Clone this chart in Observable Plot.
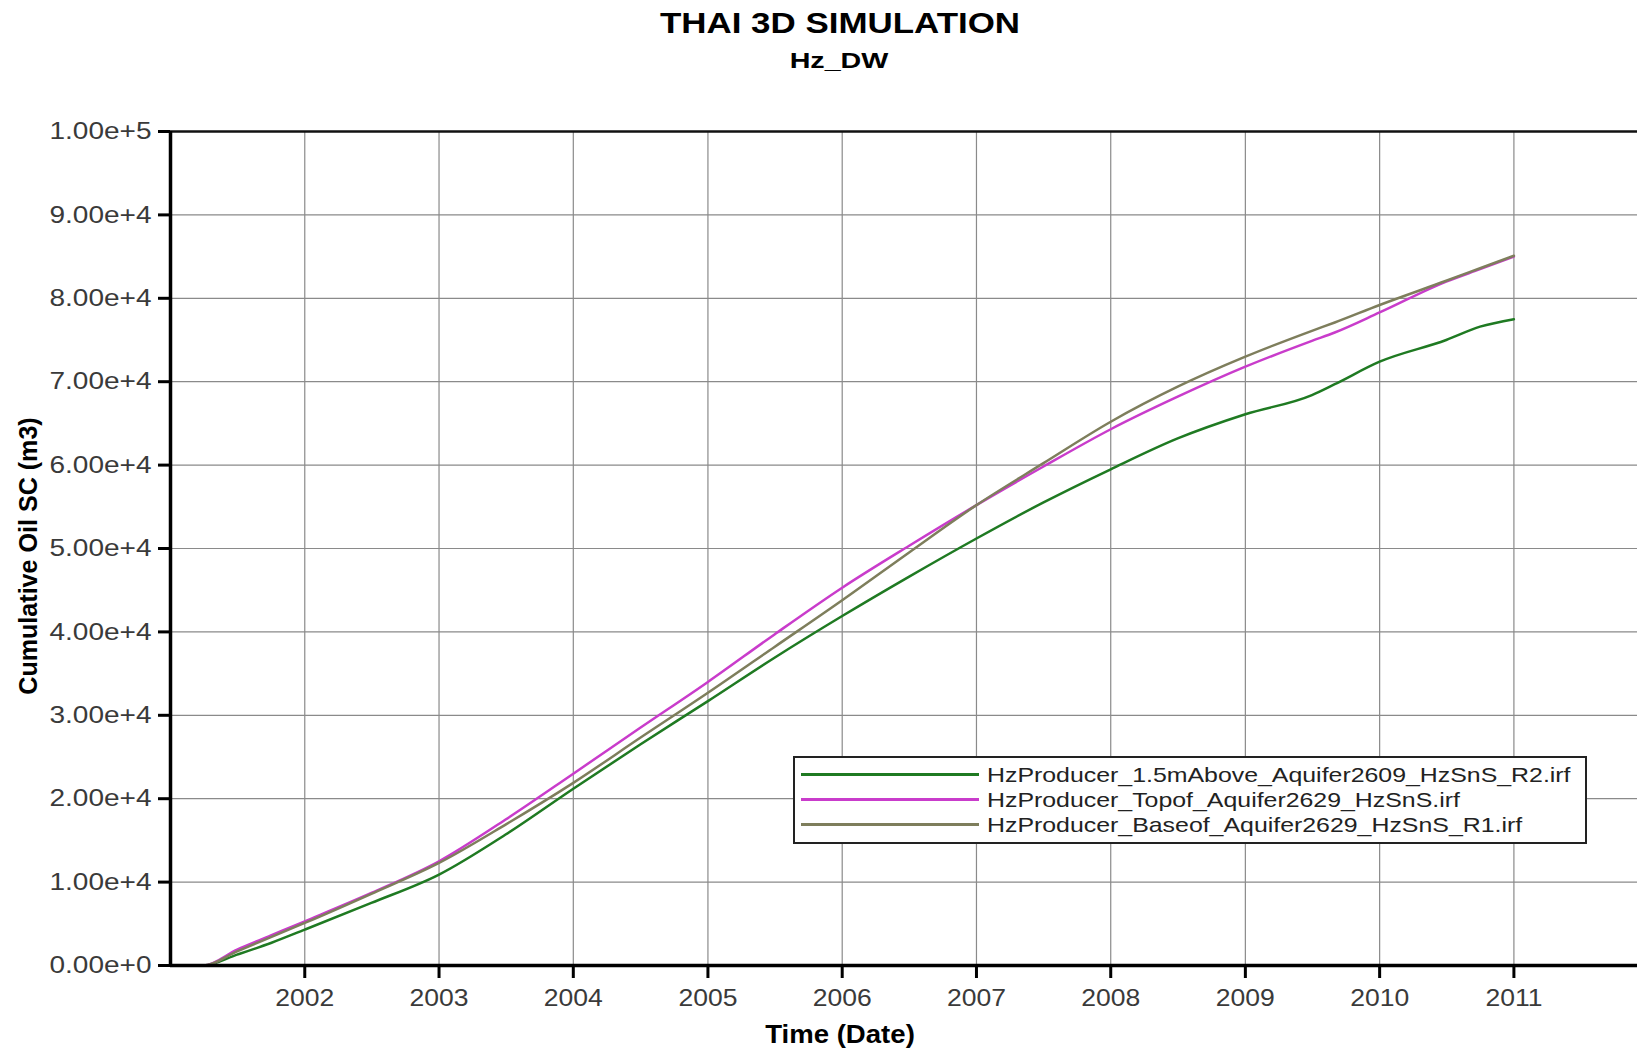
<!DOCTYPE html>
<html>
<head>
<meta charset="utf-8">
<script src="https://cdn.jsdelivr.net/npm/d3@7"></script>
<script src="https://cdn.jsdelivr.net/npm/@observablehq/plot@0.6"></script>
<style>
  html, body { margin: 0; padding: 0; background: #fff; }
  #wrap { position: relative; width: 1637px; height: 1050px; overflow: hidden; font-family: "Liberation Sans", Arial, sans-serif; }
  .ov { position: absolute; white-space: nowrap; line-height: 1; }
</style>
</head>
<body>
<div id="wrap"></div>
<script>
// ---------------- data ----------------
const dates = ["2001-01","2001-04","2001-07","2001-10","2002-01","2002-07","2003-01","2003-07",
  "2004-01","2004-07","2005-01","2005-07","2006-01","2006-07","2007-01","2007-07","2008-01",
  "2008-07","2009-01","2009-07","2009-09","2010-01","2010-07","2010-10","2011-01"];
const above15m = [0,0,1300,2700,4300,7500,10900,15700,21200,26500,31700,36900,41900,46600,
  51200,55500,59500,63200,66100,68400,69700,72400,75000,76600,77500];
const topof = [0,0,1900,3600,5300,8700,12500,17500,23000,28500,34000,39700,45300,50300,
  55200,59800,64300,68200,71800,74900,75900,78300,82000,83500,85000];
const baseof = [0,0,1700,3400,5100,8600,12300,16900,21900,27300,32700,38200,43800,49500,
  55200,60200,65200,69400,73000,76100,77100,79200,82100,83600,85100];
const seriesNames = [
  "HzProducer_1.5mAbove_Aquifer2609_HzSnS_R2.irf",
  "HzProducer_Topof_Aquifer2629_HzSnS.irf",
  "HzProducer_Baseof_Aquifer2629_HzSnS_R1.irf"
];
const seriesColors = ["#1f7a22", "#c93ccb", "#7e7e5c"];
const xTickYears = [2002,2003,2004,2005,2006,2007,2008,2009,2010,2011];
const yTicks = [0,10000,20000,30000,40000,50000,60000,70000,80000,90000,100000];
const titleText = "THAI 3D SIMULATION";
const subtitleText = "Hz_DW";
const xLabel = "Time (Date)";
const yLabel = "Cumulative Oil SC (m3)";

// ---------------- build table ----------------
const seriesValues = [above15m, topof, baseof];
const rows = [];
seriesValues.forEach((vals, i) => {
  vals.forEach((v, j) => rows.push({date: new Date(dates[j]), value: v, series: seriesNames[i]}));
});
const xTicks = xTickYears.map(y => new Date(Date.UTC(y, 0, 1)));
const xDomain = [new Date("2001-01-01"), new Date("2011-12-03")];

const FONT = '"Liberation Sans", Arial, sans-serif';
const grid = {stroke: "#8a8a8a", strokeOpacity: 1, strokeWidth: 1.2};

const chart = Plot.plot({
  width: 1637, height: 1050,
  marginLeft: 170, marginRight: 0, marginTop: 131, marginBottom: 85,
  x: {type: "utc", domain: xDomain},
  y: {domain: [0, 100000]},
  color: {domain: seriesNames, range: seriesColors},
  style: {fontFamily: FONT, background: "white", overflow: "visible"},
  marks: [
    Plot.gridX(xTicks, grid),
    Plot.gridY(yTicks, grid),
    Plot.line(rows, {x: "date", y: "value", z: "series", stroke: "series", strokeWidth: 2.5, curve: "monotone-x"}),
    Plot.ruleY([100000], {stroke: "#111", strokeWidth: 2.5}),
    Plot.ruleY([0], {stroke: "#000", strokeWidth: 3.5}),
    Plot.ruleX([xDomain[0]], {stroke: "#000", strokeWidth: 3.5}),
    Plot.axisX(xTicks, {tickSize: 13, tickPadding: 10, stroke: "#000", strokeWidth: 3, fill: "#3a3a3a",
      fontSize: 24, tickFormat: d => String(d.getUTCFullYear()), label: null}),
    Plot.axisY(yTicks, {tickSize: 12, tickPadding: 7, stroke: "#000", strokeWidth: 3, fill: "#3a3a3a",
      fontSize: 24, tickFormat: d3.format(".2e"), label: null})
  ]
});

const wrap = document.getElementById("wrap");
wrap.appendChild(chart);

// stretch tick labels horizontally to match the reference's wide lettering
function stretch(sel, targetFirst) {
  const texts = chart.querySelectorAll(sel);
  if (!texts.length) return;
  const w0 = texts[0].getComputedTextLength();
  const s = targetFirst / w0;
  texts.forEach(t => {
    const w = t.getComputedTextLength();
    t.setAttribute("textLength", (w * s).toFixed(1));
    t.setAttribute("lengthAdjust", "spacingAndGlyphs");
  });
}
stretch('g[aria-label="y-axis tick label"] text', 102);
stretch('g[aria-label="x-axis tick label"] text', 59);

// ---------------- overlays: titles, axis labels, legend ----------------
function addText(txt, {x, baseline, size, bold, color = "#000", targetWidth}) {
  const d = document.createElement("div");
  d.className = "ov";
  d.textContent = txt;
  d.style.fontSize = size + "px";
  d.style.fontWeight = bold ? "bold" : "normal";
  d.style.color = color;
  d.style.top = (baseline - 0.8465 * size) + "px";
  d.style.left = x + "px";
  wrap.appendChild(d);
  const s = targetWidth ? targetWidth / d.offsetWidth : 1;
  d.style.transform = `translateX(-50%) scaleX(${s})`;
  return d;
}
addText(titleText, {x: 839.5, baseline: 34, size: 29, bold: true, targetWidth: 360});
addText(subtitleText, {x: 838.5, baseline: 68.5, size: 22, bold: true, targetWidth: 99});
addText(xLabel, {x: 840, baseline: 1043, size: 25, bold: true, targetWidth: 150});

// rotated y label
{
  const d = document.createElement("div");
  d.className = "ov";
  d.textContent = yLabel;
  d.style.fontSize = "25px";
  d.style.fontWeight = "bold";
  d.style.left = "27.5px";
  d.style.top = "556px";
  wrap.appendChild(d);
  const s = 277 / d.offsetWidth;
  d.style.transform = `translate(-50%,-50%) rotate(-90deg) scaleX(${s})`;
}

// legend
{
  const box = document.createElement("div");
  box.style.cssText = "position:absolute;left:793px;top:756px;width:790px;height:84px;border:2px solid #222;background:#fff;";
  wrap.appendChild(box);
  const rowsY = [774, 799.3, 824.3];
  let scale = null;
  seriesNames.forEach((name, i) => {
    const sw = document.createElement("div");
    sw.style.cssText = `position:absolute;left:801px;width:178px;height:3px;top:${rowsY[i] - 1.5}px;background:${seriesColors[i]};`;
    wrap.appendChild(sw);
    const t = document.createElement("div");
    t.className = "ov";
    t.textContent = name;
    t.style.fontSize = "21px";
    t.style.color = "#222";
    t.style.left = "987px";
    t.style.top = (rowsY[i] + 7.5 - 0.8465 * 21) + "px";
    wrap.appendChild(t);
    if (scale === null) scale = 584 / t.offsetWidth;
    t.style.transformOrigin = "left center";
    t.style.transform = `scaleX(${scale})`;
  });
}
</script>
</body>
</html>
